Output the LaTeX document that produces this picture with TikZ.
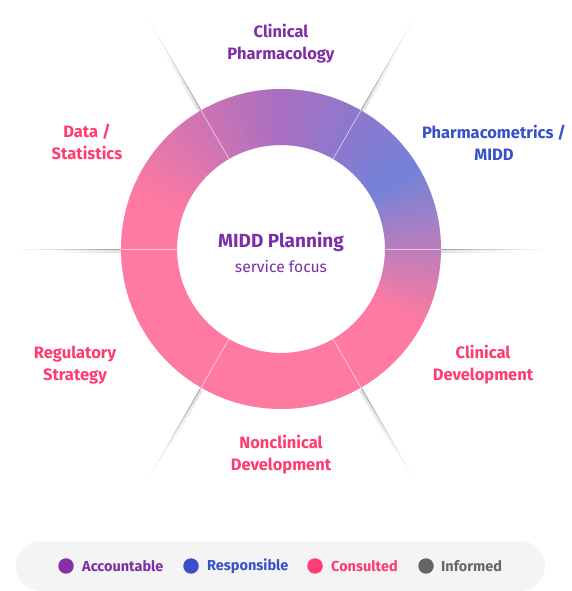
\documentclass[tikz,border=0pt]{standalone}
\usepackage{fontspec}
\setmainfont{Fira Sans}
\usetikzlibrary{calc}
\definecolor{txtpurple}{HTML}{7E2FA6}
\definecolor{txtblue}{HTML}{3A50C8}
\definecolor{txtpink}{HTML}{FF3B6F}
\definecolor{txtgray}{HTML}{666666}
\definecolor{dotpurple}{HTML}{862FA8}
\definecolor{dotblue}{HTML}{3B4FCB}
\definecolor{dotpink}{HTML}{FF3D74}
\definecolor{ringpink}{HTML}{FF7AA0}
\definecolor{ringpurple}{HTML}{A86FC1}
\definecolor{ringblue}{HTML}{7382D9}
\definecolor{pillbg}{HTML}{F4F4F5}
\tikzset{
  lbl/.style={font=\bfseries\fontsize{16.5}{22}\selectfont, align=center, inner sep=0pt},
  legtxt/.style={font=\bfseries\fontsize{14.5}{16}\selectfont, anchor=west, inner sep=0pt},
  legdot/.style={circle, minimum size=15.5pt, inner sep=0pt},
}
\newcommand{\wedgeseg}[2]{%
  \fill[#2] (#1:104) arc[start angle=#1, end angle=#1+1.3, radius=104] -- (#1+1.3:160) arc[start angle=#1+1.3, end angle=#1, radius=160] -- cycle;}
\begin{document}
\begin{tikzpicture}[x=1pt,y=1pt]
\useasboundingbox (0,0) rectangle (571,591);
\fill[white] (0,0) rectangle (571,591);
\coordinate (c) at (281,342);
% dividers outside: soft drop shadow
\begin{scope}[shift={(281,339.5)}]
\foreach \a in {0,60,120,180,240,300}{
  \foreach \r in {160,163,...,232}{
    \pgfmathsetmacro\op{0.11*(1-(\r-160)/75)}
    \draw[black, opacity=\op, line width=4pt] (\a:\r) -- (\a:\r+3);
  }
}
\end{scope}
% dividers outside: fading line
\begin{scope}[shift={(c)}]
\foreach \a in {0,60,120,180,240,300}{
  \foreach \r in {160,162,...,266}{
    \pgfmathsetmacro\op{0.30*(1-(\r-160)/108)}
    \draw[black, opacity=\op, line width=0.8pt] (\a:\r) -- (\a:\r+2);
  }
}
\end{scope}
% ring
\begin{scope}[shift={(c)}]
  \foreach \a in {-30,...,29}{
    \pgfmathtruncatemacro\t{(\a+30)/60*100}
    \colorlet{segc}{ringblue!\t!ringpink}
    \wedgeseg{\a}{segc}
  }
  \foreach \a in {30,...,89}{
    \pgfmathtruncatemacro\t{(\a-30)/60*100}
    \colorlet{segc}{ringpurple!\t!ringblue}
    \wedgeseg{\a}{segc}
  }
  \foreach \a in {90,...,159}{
    \pgfmathtruncatemacro\t{(\a-90)/70*100}
    \colorlet{segc}{ringpink!\t!ringpurple}
    \wedgeseg{\a}{segc}
  }
  \foreach \a in {160,...,329}{
    \wedgeseg{\a}{ringpink}
  }
  \foreach \a in {0,60,120,180,240,300}{
    \draw[white, opacity=0.55, line width=0.8pt] (\a:104) -- (\a:160);
  }
\end{scope}
% center text
\node (title) [font=\bfseries\fontsize{19}{22}\selectfont, text=txtpurple, inner sep=0pt] at (281,349) {MIDD Planning};
\node (sub) [font=\fontsize{15.7}{18}\selectfont, text=txtpurple, inner sep=0pt] at (281,325) {service focus};
% labels
\node (cp) [lbl, text=txtpurple] at (281,547.5) {Clinical\\Pharmacology};
\node (pm) [lbl, text=txtblue] at (494,448) {Pharmacometrics /\\MIDD};
\node (cd) [lbl, text=txtpink] at (483,226.5) {Clinical\\Development};
\node (nd) [lbl, text=txtpink] at (281,136) {Nonclinical\\Development};
\node (rs) [lbl, text=txtpink] at (75,226) {Regulatory\\Strategy};
\node (ds) [lbl, text=txtpink] at (87,449) {Data /\\Statistics};
% legend
\fill[pillbg, rounded corners=25pt] (16,0) rectangle (545,50);
\node (d1) [legdot, fill=dotpurple] at (66,25) {};
\node (t1) [legtxt, text=txtpurple] at (82,25) {Accountable};
\node (d2) [legdot, fill=dotblue] at (191,25) {};
\node (t2) [legtxt, text=txtblue] at (207,25) {Responsible};
\node (d3) [legdot, fill=dotpink] at (315,25) {};
\node (t3) [legtxt, text=txtpink] at (331,25) {Consulted};
\node (d4) [legdot, fill=txtgray] at (426,25) {};
\node (t4) [legtxt, text=txtgray] at (441,25) {Informed};
\end{tikzpicture}
\end{document}
